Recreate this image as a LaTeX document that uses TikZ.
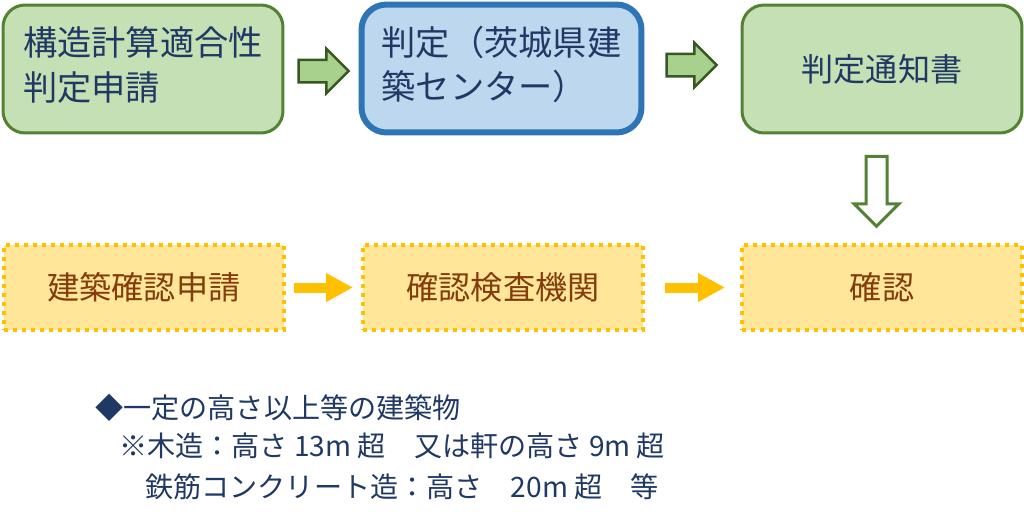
\documentclass[tikz,border=0pt]{standalone}
\usepackage{fontspec}
\setmainfont{Noto Sans CJK JP}
\usetikzlibrary{arrows.meta}
\usetikzlibrary{shapes.arrows}

\definecolor{boxgreen}{HTML}{C5E0B4}
\definecolor{linegreen}{HTML}{548235}
\definecolor{arrowgreen}{HTML}{A9D18E}
\definecolor{darkgreen}{HTML}{385723}
\definecolor{boxblue}{HTML}{BDD7EE}
\definecolor{lineblue}{HTML}{2E75B6}
\definecolor{boxyellow}{HTML}{FFE699}
\definecolor{lineyellow}{HTML}{FFC000}
\definecolor{navy}{HTML}{203864}
\definecolor{brown}{HTML}{843C0C}

\begin{document}
\begin{tikzpicture}[x=0.02cm, y=-0.02cm,
    greenbox/.style={rectangle, rounded corners=0.44cm, draw=linegreen, line width=0.06cm, fill=boxgreen, minimum width=5.6cm, minimum height=2.56cm, inner sep=0, text=navy, font=\fontsize{19.5}{25.5}\selectfont},
    bluebox/.style={greenbox, rounded corners=0.5cm, draw=lineblue, line width=0.12cm, fill=boxblue},
    yellowbox/.style={rectangle, draw=lineyellow, line width=0.08cm, dash pattern=on 0.08cm off 0.1cm, fill=boxyellow, minimum width=5.6cm, minimum height=1.7cm, inner sep=0, text=brown, font=\fontsize{18.3}{22}\selectfont},
    blockarrow/.style={single arrow, draw=darkgreen, line width=0.05cm, fill=arrowgreen, minimum height=1.0cm, minimum width=0.84cm, single arrow head extend=0.22cm, inner xsep=0, inner ysep=0.2cm},
    downarrow/.style={single arrow, rotate=-90, draw=linegreen, line width=0.06cm, fill=white, minimum height=1.4cm, minimum width=0.84cm, single arrow head extend=0.24cm, inner xsep=0, inner ysep=0.18cm},
    flowarrow/.style={draw=lineyellow, line width=0.2cm, -{Triangle[length=0.54cm, width=0.54cm]}},
    note/.style={anchor=west, inner sep=0, text=navy, font=\fontsize{16}{19}\selectfont}
]
    \useasboundingbox (0,0) rectangle (1024,525);

    % upper row
    \node (apply) [greenbox] at (143,69) {\begin{tabular}{@{}l@{}}
         構造計算適合性\\ 判定申請
    \end{tabular}};
    \node (judge) [bluebox] at (501.5,68.5) {\begin{tabular}{@{}l@{}}
         判定（茨城県建\\ 築センター）
    \end{tabular}};
    \node (notice) [greenbox, font=\fontsize{18.3}{22}\selectfont] at (882,69) {判定通知書};

    \node (arr1) [blockarrow] at (318,71) {};
    \node (arr2) [blockarrow] at (686,65) {};
    \node (arr3) [downarrow] at (876.5,186) {};

    % lower row
    \node (bapply) [yellowbox] at (144,287.5) {建築確認申請};
    \node (agency) [yellowbox] at (503,287.5) {確認検査機関};
    \node (confirm) [yellowbox] at (882,287.5) {確認};

    \draw [flowarrow, shorten <=0.16cm, shorten >=0.16cm] (bapply) -- (agency);
    \draw [flowarrow, shorten <=0.4cm, shorten >=0.3cm] (agency) -- (confirm);

    % notes
    \node (note1) [note] at (95,408) {◆一定の高さ以上等の建築物};
    \node (note2) [note] at (119,446) {※木造：高さ 13m 超　又は軒の高さ 9m 超};
    \node (note3) [note] at (145,487) {鉄筋コンクリート造：高さ　20m 超　等};
\end{tikzpicture}
\end{document}
